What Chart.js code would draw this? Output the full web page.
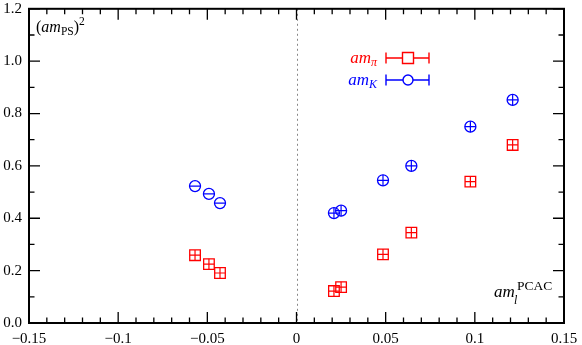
<!DOCTYPE html>
<html>
<head>
<meta charset="utf-8">
<script src="https://cdn.jsdelivr.net/npm/chart.js@4"></script>
<style>
  html, body { margin: 0; padding: 0; background: #fff; }
  #wrap { width: 582px; height: 345px; position: relative; }
</style>
</head>
<body>
<div id="wrap"><canvas id="myChart" width="582" height="345"></canvas></div>
<script>
const canvas = document.getElementById('myChart');
const ctx = canvas.getContext('2d');

// light quark mass (PCAC)
const amPCAC = [-0.0569, -0.0491, -0.0429, 0.0210, 0.0250, 0.0485, 0.0644, 0.0975, 0.1212];
// squared pseudoscalar masses
const amPi2 = [0.259, 0.225, 0.191, 0.122, 0.137, 0.262, 0.345, 0.540, 0.680];
const amK2 = [0.523, 0.493, 0.458, 0.420, 0.429, 0.545, 0.600, 0.750, 0.852];

const xTickVals = [-0.15, -0.1, -0.05, 0, 0.05, 0.1, 0.15];
const yTickVals = [0.0, 0.2, 0.4, 0.6, 0.8, 1.0, 1.2];
const xMinorStep = 0.01;
const yMinorStep = 0.1;

const RED = '#ff0000';
const BLUE = '#0000ff';
const SERIF = '"Liberation Serif", "DejaVu Serif", serif';

function pts(ys) {
    return amPCAC.map((x, i) => ({ x: x, y: ys[i] }));
}

// draw text made of runs (italic / sub / sup)
function drawRuns(c, x, y, runs, align, color) {
    c.save();
    c.fillStyle = color || '#000';
    c.textBaseline = 'alphabetic';
    c.textAlign = 'left';
    let w = 0;
    runs.forEach(r => { c.font = r.font; w += c.measureText(r.t).width + (r.dx || 0); });
    let cx = align === 'right' ? x - w : x;
    runs.forEach(r => {
        c.font = r.font;
        c.fillText(r.t, cx + (r.dx || 0), y + (r.dy || 0));
        cx += c.measureText(r.t).width + (r.dx || 0);
    });
    c.restore();
}

const it = sz => 'italic ' + sz + 'px ' + SERIF;
const rm = sz => sz + 'px ' + SERIF;

const decor = {
    id: 'decor',
    beforeDatasetsDraw(chart) {
        const c = chart.ctx;
        const xs = chart.scales.x;
        const a = chart.chartArea;
        // dotted zero line
        c.save();
        c.strokeStyle = '#888';
        c.lineWidth = 1;
        c.setLineDash([2, 3]);
        const x0 = Math.round(xs.getPixelForValue(0)) + 0.5;
        c.beginPath();
        c.moveTo(x0, a.top);
        c.lineTo(x0, a.bottom);
        c.stroke();
        c.restore();
    },
    afterDraw(chart) {
        const c = chart.ctx;
        const xs = chart.scales.x, ys = chart.scales.y;
        const a = chart.chartArea;
        c.save();
        c.strokeStyle = '#000';

        // ticks, inward on all sides
        c.lineWidth = 1.3;
        const big = 11, small = 5.5;
        c.beginPath();
        for (let v = xs.min; v <= xs.max + 1e-9; v += xMinorStep) {
            const isMaj = xTickVals.some(t => Math.abs(t - v) < 1e-6);
            const L = isMaj ? big : small;
            const px = xs.getPixelForValue(v);
            c.moveTo(px, a.bottom); c.lineTo(px, a.bottom - L);
            c.moveTo(px, a.top); c.lineTo(px, a.top + L);
        }
        for (let v = ys.min; v <= ys.max + 1e-9; v += yMinorStep) {
            const isMaj = yTickVals.some(t => Math.abs(t - v) < 1e-6);
            const L = isMaj ? big : small;
            const py = ys.getPixelForValue(v);
            c.moveTo(a.left, py); c.lineTo(a.left + L, py);
            c.moveTo(a.right, py); c.lineTo(a.right - L, py);
        }
        c.stroke();

        c.lineWidth = 2;
        c.strokeRect(a.left, a.top, a.right - a.left, a.bottom - a.top);
        c.restore();

        // axis labels
        drawRuns(c, 36, 32, [
            { t: '(', font: rm(16) },
            { t: 'am', font: it(16) },
            { t: 'PS', font: rm(11.5), dy: 3 },
            { t: ')', font: rm(16) },
            { t: '2', font: rm(11.5), dy: -7 }
        ]);
        drawRuns(c, 494, 297, [{ t: 'am', font: it(17) }]);
        drawRuns(c, 514, 304, [{ t: 'l', font: it(12) }]);
        drawRuns(c, 517, 290, [{ t: 'PCAC', font: rm(13.5) }]);

        // legend
        const items = [
            { lab: 'π', y: 58, col: RED, sq: true },
            { lab: 'K', y: 80, col: BLUE, sq: false }
        ];
        items.forEach(o => {
            drawRuns(c, 377, o.y + 5, [
                { t: 'am', font: it(17) },
                { t: o.lab, font: it(12), dy: 3 }
            ], 'right', o.col);
            c.save();
            c.strokeStyle = o.col;
            c.lineWidth = 1.4;
            c.beginPath();
            c.moveTo(386, o.y); c.lineTo(429, o.y);
            c.moveTo(386, o.y - 5.5); c.lineTo(386, o.y + 5.5);
            c.moveTo(429, o.y - 5.5); c.lineTo(429, o.y + 5.5);
            c.stroke();
            c.fillStyle = '#fff';
            c.beginPath();
            if (o.sq) c.rect(402.5, o.y - 5.5, 11, 11);
            else c.arc(408, o.y, 5, 0, Math.PI * 2);
            c.fill();
            c.stroke();
            c.restore();
        });
    }
};

const data = {
    datasets: [
        {
            label: 'am_pi',
            data: pts(amPi2),
            pointStyle: 'rect',
            pointRadius: 7.5,
            borderColor: RED,
            backgroundColor: 'rgba(255,255,255,0)',
            pointBorderWidth: 1.3,
            showLine: false
        },
        {
            label: 'am_pi err',
            data: pts(amPi2),
            pointStyle: 'cross',
            pointRadius: 5.3,
            borderColor: RED,
            pointBorderWidth: 1.2,
            showLine: false
        },
        {
            label: 'am_K',
            data: pts(amK2),
            pointStyle: 'circle',
            pointRadius: 5.5,
            borderColor: BLUE,
            backgroundColor: 'rgba(255,255,255,0)',
            pointBorderWidth: 1.3,
            showLine: false
        },
        {
            label: 'am_K err',
            data: pts(amK2),
            pointStyle: ['line', 'line', 'line', 'cross', 'cross', 'cross', 'cross', 'cross', 'cross'],
            pointRadius: 5.5,
            borderColor: BLUE,
            pointBorderWidth: 1.2,
            showLine: false
        }
    ]
};

const myChart = new Chart(ctx, {
    type: 'scatter',
    data: data,
    options: {
        responsive: false,
        animation: false,
        layout: { padding: { left: 0, right: 18, top: 5, bottom: 0 } },
        plugins: { legend: { display: false }, tooltip: { enabled: false } },
        scales: {
            x: {
                type: 'linear',
                min: -0.15,
                max: 0.15,
                afterBuildTicks: s => { s.ticks = xTickVals.map(v => ({ value: v })); },
                afterFit: s => { s.height = 22; s.paddingLeft = 0; s.paddingRight = 0; },
                grid: { display: false, drawTicks: false },
                border: { display: false },
                ticks: {
                    autoSkip: false,
                    maxRotation: 0,
                    padding: 7,
                    color: '#000',
                    font: { family: SERIF, size: 15 },
                    callback: v => String(parseFloat(v.toFixed(2))).replace('-', '\u2212')
                }
            },
            y: {
                type: 'linear',
                min: 0,
                max: 1.2,
                afterBuildTicks: s => { s.ticks = yTickVals.map(v => ({ value: v })); },
                afterFit: s => { s.width = 29; s.paddingTop = 0; s.paddingBottom = 0; },
                grid: { display: false, drawTicks: false },
                border: { display: false },
                ticks: {
                    autoSkip: false,
                    padding: 7,
                    color: '#000',
                    font: { family: SERIF, size: 15 },
                    callback: v => v.toFixed(1)
                }
            }
        }
    },
    plugins: [decor]
});
</script>
</body>
</html>
